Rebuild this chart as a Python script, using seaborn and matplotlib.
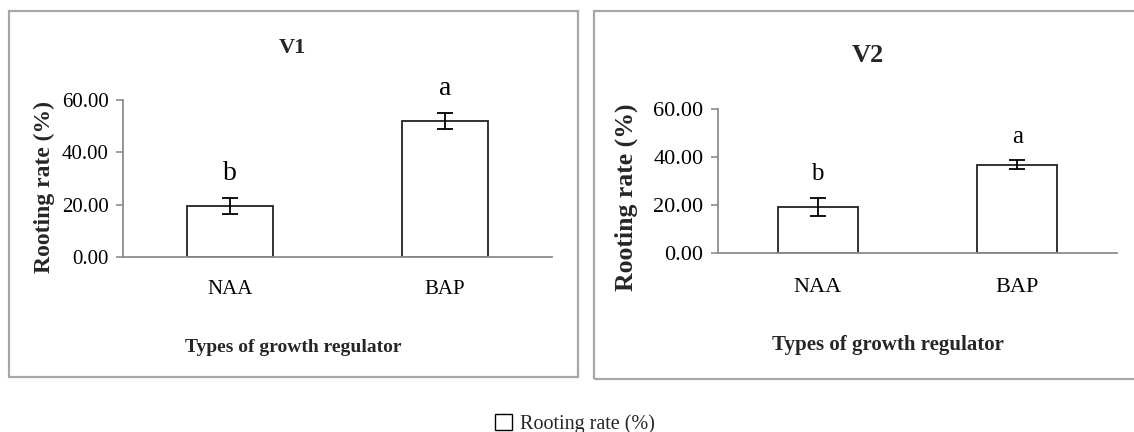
import matplotlib
matplotlib.use("Agg")
import matplotlib.pyplot as plt
from matplotlib.patches import Rectangle, Patch
import seaborn as sns
import pandas as pd

# Rooting rate (%) by growth regulator, for the two varieties
regulators = ["NAA", "BAP"]
v1_rate = [19.5, 52.0]
v1_err = [2.9, 3.0]
v2_rate = [19.2, 36.8]
v2_err = [3.9, 1.9]
v1_letters = ["b", "a"]
v2_letters = ["b", "a"]
y_ticks = [0, 20, 40, 60]

sns.set_theme(style="white")
plt.rcParams["font.family"] = ["Liberation Serif", "DejaVu Serif"]

W, H = 1134, 432
fig = plt.figure(figsize=(W / 100, H / 100), dpi=100)
fig.patch.set_facecolor("white")


def fx(px):
    return px / W


def fy(py):
    return 1 - py / H


def panel_frame(x0, y0, x1, y1):
    fig.add_artist(Rectangle((fx(x0), fy(y1)), fx(x1) - fx(x0), fy(y0) - fy(y1),
                             transform=fig.transFigure, fill=False,
                             edgecolor="#a6a6a6", linewidth=1.6))


def panel(rect, rates, errs, letters, title, title_xy, fs):
    left, top, right, bottom = rect
    ax = fig.add_axes([fx(left), fy(bottom), fx(right) - fx(left), fy(top) - fy(bottom)])
    df = pd.DataFrame({"regulator": regulators, "rate": rates})
    sns.barplot(data=df, x="regulator", y="rate", ax=ax, color="white",
                edgecolor="#222222", linewidth=1.3, width=0.4, errorbar=None,
                saturation=1)
    ax.errorbar(range(len(rates)), rates, yerr=errs, fmt="none", ecolor="black",
                elinewidth=1.3, capsize=6, capthick=1.3)
    for i, (r, e, lab) in enumerate(zip(rates, errs, letters)):
        ax.annotate(lab, (i, r + e), xytext=(0, 9), textcoords="offset points",
                    ha="center", va="bottom", fontsize=fs["letter"], color="black",
                    annotation_clip=False)
    ax.set_ylim(0, 60)
    ax.set_xlim(-0.5, 1.5)
    ax.set_yticks(y_ticks)
    ax.set_yticklabels([f"{t:.2f}" for t in y_ticks], fontsize=fs["tick"], color="black")
    ax.set_xticklabels(regulators, fontsize=fs["cat"], color="black")
    ax.tick_params(axis="y", direction="out", length=5, width=1.2, color="#8c8c8c",
                   pad=5.5, left=True)
    ax.tick_params(axis="x", length=0, pad=fs["catpad"])
    for s in ("top", "right"):
        ax.spines[s].set_visible(False)
    for s in ("left", "bottom"):
        ax.spines[s].set_color("#8c8c8c")
        ax.spines[s].set_linewidth(1.3)
    ax.set_facecolor("white")
    ax.grid(False)

    ax.set_xlabel("Types of growth regulator", fontsize=fs["xlabel"], fontweight="bold")
    ax.xaxis.set_label_coords(fx(fs["xlab_xy"][0]), fy(fs["xlab_xy"][1]),
                              transform=fig.transFigure)
    ax.xaxis.label.set_va("center")
    ax.set_ylabel("Rooting rate (%)", fontsize=fs["ylabel"], fontweight="bold")
    ax.yaxis.set_label_coords(fx(fs["ylab_xy"][0]), fy(fs["ylab_xy"][1]),
                              transform=fig.transFigure)
    ax.yaxis.label.set_va("center")
    fig.text(fx(title_xy[0]), fy(title_xy[1]), title, ha="center", va="center",
             fontsize=fs["title"], fontweight="bold")
    return ax


panel_frame(9, 11, 578, 377)
panel_frame(594, 11, 1140, 379)

panel((123, 100, 552, 257), v1_rate, v1_err, v1_letters, "V1", (292, 48),
      dict(letter=20, tick=15, cat=15, catpad=16.5, xlabel=14, ylabel=17,
           title=16, xlab_xy=(293, 348), ylab_xy=(44, 187)))
panel((718, 109, 1117, 253), v2_rate, v2_err, v2_letters, "V2", (868, 55),
      dict(letter=18, tick=16, cat=16, catpad=18, xlabel=15, ylabel=18.5,
           title=19, xlab_xy=(888, 345), ylab_xy=(626, 197)))

handle = Patch(facecolor="white", edgecolor="black", linewidth=1.0)
fig.legend([handle], ["Rooting rate (%)"], loc="center",
           bbox_to_anchor=(fx(575), fy(424)), frameon=False, fontsize=14.5,
           handlelength=0.8, handleheight=0.8, handletextpad=0.4)

fig.savefig("out.png", dpi=100, facecolor="white")
